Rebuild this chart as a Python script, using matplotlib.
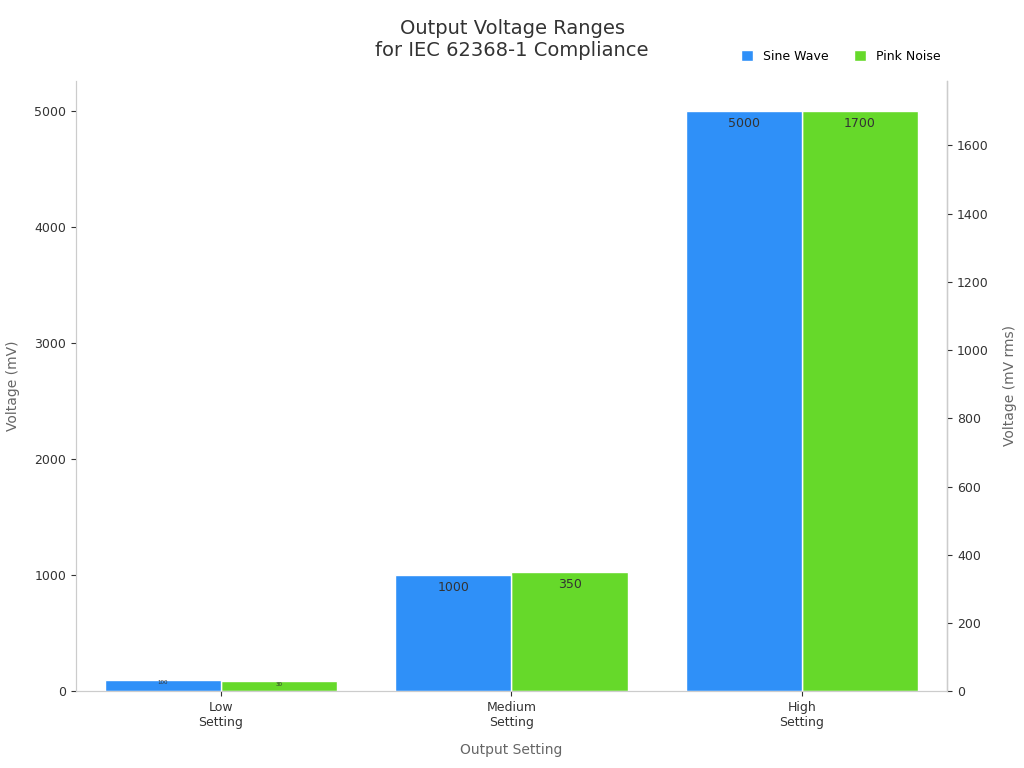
import matplotlib
matplotlib.use("Agg")
import matplotlib.pyplot as plt
import numpy as np

categories = ["Low\nSetting", "Medium\nSetting", "High\nSetting"]
sine = [100, 1000, 5000]
pink = [30, 350, 1700]
label_sizes = [4, 9, 9]

fig = plt.figure(figsize=(10.24, 7.68), dpi=100)
ax = fig.add_axes([0.074, 0.1, 0.851, 0.795])
ax2 = ax.twinx()
x = np.arange(len(categories))
w = 0.4
b1 = ax.bar(x - w/2, sine, w, color="#2f90f8", edgecolor="white", linewidth=1, label="Sine Wave")
b2 = ax2.bar(x + w/2, pink, w, color="#66d92a", edgecolor="white", linewidth=1, label="Pink Noise")
ax.set_ylim(0, 5000 * 1.053)
ax2.set_ylim(0, 1700 * 1.053)
ax.set_xlim(-0.5, 2.5)
for i in range(3):
    ax.text(x[i] - w/2, sine[i] - 0.02 * 5000 * 1.053 * (1 if i else 0.25), str(sine[i]), ha="center", va="center",
            fontsize=label_sizes[i], color="#333333")
    ax2.text(x[i] + w/2, pink[i] - 0.02 * 1700 * 1.053 * (1 if i else 0.25), str(pink[i]), ha="center", va="center",
             fontsize=label_sizes[i], color="#333333")
ax.set_xticks(x)
ax.set_xticklabels(categories, fontsize=9, color="#333333")
ax.set_xlabel("Output Setting", fontsize=10, color="#666666", labelpad=10)
ax.set_ylabel("Voltage (mV)", fontsize=10, color="#666666", labelpad=10)
ax2.set_ylabel("Voltage (mV rms)", fontsize=10, color="#666666", labelpad=10)
ax.set_yticks([0, 1000, 2000, 3000, 4000, 5000])
ax2.set_yticks(range(0, 1601, 200))
for a in (ax, ax2):
    a.tick_params(labelsize=9, colors="#333333")
    for s in a.spines.values():
        s.set_color("#cccccc")
    a.spines["top"].set_visible(False)
ax2.spines["right"].set_color("#333333")
ax.set_zorder(ax2.get_zorder() + 1)
ax.patch.set_visible(False)
fig.suptitle("Output Voltage Ranges\nfor IEC 62368-1 Compliance", fontsize=14, color="#333333", y=0.975)
h1, l1 = ax.get_legend_handles_labels()
h2, l2 = ax2.get_legend_handles_labels()
fig.legend(h1 + h2, l1 + l2, loc="upper right", bbox_to_anchor=(0.93, 0.95), ncol=2, frameon=False,
           fontsize=9, handlelength=1, handleheight=1)
fig.savefig("out.png")
